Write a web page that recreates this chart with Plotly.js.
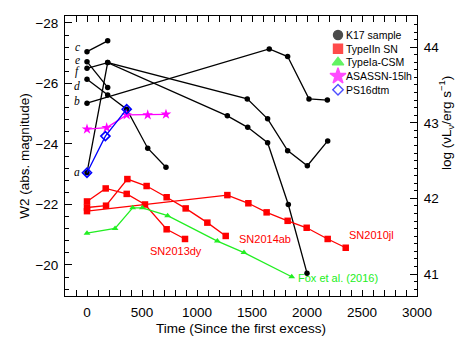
<!DOCTYPE html>
<html>
<head>
<meta charset="utf-8">
<script src="https://cdn.plot.ly/plotly-3.0.1.min.js"></script>
<style>html,body{margin:0;padding:0;background:#fff;}#chart{width:463px;height:337px;}</style>
</head>
<body>
<div id="chart"></div>
<script>
// ---- data (time since first excess [days], W2 absolute magnitude) ----
const k17_a_t = [0, 188, 1457, 1642, 1824, 2003, 2188];
const k17_a_m = [-23.05, -26.69, -25.49, -24.83, -23.78, -23.28, -24.10];
const k17_b_t = [0, 1657, 1824, 2018, 2185];
const k17_b_m = [-25.35, -27.14, -26.89, -25.49, -25.45];
const k17_c_t = [0, 188];
const k17_c_m = [-27.05, -27.41];
const k17_d_t = [0, 188, 361, 552, 718];
const k17_d_m = [-26.14, -25.62, -25.15, -23.86, -23.23];
const k17_e_t = [0, 188];
const k17_e_m = [-26.72, -25.87];
const k17_f_t = [0, 188, 1276, 1461, 1642, 1830, 2000];
const k17_f_m = [-26.50, -26.69, -24.93, -24.55, -24.04, -22.00, -19.73];

const sn2013dy_t = [0, 170, 361, 527, 724, 891];
const sn2013dy_m = [-22.10, -22.53, -22.35, -22.00, -21.18, -20.86];
const sn2014ab_t = [0, 173, 367, 542, 724, 897, 1094, 1261];
const sn2014ab_m = [-21.90, -21.96, -22.84, -22.61, -22.24, -21.87, -21.40, -20.96];
const sn2010jl_t = [0, 1276, 1467, 1633, 1824, 1997, 2188, 2352];
const sn2010jl_m = [-21.78, -22.31, -22.04, -21.74, -21.46, -21.23, -20.86, -20.57];

const iacsm_t = [0, 255, 415, 503, 733, 1185, 1427, 1861];
const iacsm_m = [-21.05, -21.21, -21.89, -21.89, -21.63, -20.79, -20.41, -19.61];

const asassn_t = [0, 179, 361, 552, 718];
const asassn_m = [-24.49, -24.54, -24.96, -24.96, -24.98];

const ps16_t = [0, 167, 361];
const ps16_m = [-23.05, -24.26, -25.15];

const k17_labels = ['a', 'b', 'c', 'd', 'e', 'f'];
const k17_label_m = [-23.06, -25.43, -27.20, -25.92, -26.76, -26.40];

const sn_labels = ['SN2013dy', 'SN2014ab', 'SN2010jl'];
const sn_label_t = [555, 1364, 2365];
const sn_label_m = [-20.47, -20.86, -20.98];
const fox_label = 'Fox et al. (2016)';
const fox_label_t = [1900];
const fox_label_m = [-19.56];

const legend_names = ['K17 sample', 'TypeIIn SN', 'TypeIa-CSM', 'ASASSN-15lh', 'PS16dtm'];

// ---- axis scales ----
const xRange = [-200, 3000];
const yRange = [-18.975, -28.23];
// log(nu L_nu) = 44 - (M + 27.2)/2.5
const toLog = m => 44 - (m + 27.2) / 2.5;
const y2Range = [toLog(yRange[0]), toLog(yRange[1])];

const W = 463, H = 337, mL = 65, mR = 46, mT = 16, mB = 41;
const pw = W - mL - mR, ph = H - mT - mB;
const px = x => (x - mL) / pw;
const py = y => 1 - (y - mT) / ph;

const GREEN = '#22ee22';
const traces = [];
const k17 = [[k17_a_t, k17_a_m], [k17_b_t, k17_b_m], [k17_c_t, k17_c_m], [k17_d_t, k17_d_m], [k17_e_t, k17_e_m], [k17_f_t, k17_f_m]];
k17.forEach(([t, m]) => traces.push({x: t, y: m, mode: 'lines+markers', showlegend: false,
  line: {color: 'black', width: 1.3}, marker: {color: 'black', size: 5.5, symbol: 'circle'}}));
[[sn2013dy_t, sn2013dy_m], [sn2014ab_t, sn2014ab_m], [sn2010jl_t, sn2010jl_m]].forEach(([t, m]) =>
  traces.push({x: t, y: m, mode: 'lines+markers', showlegend: false,
    line: {color: '#ff0000', width: 1.3}, marker: {color: '#ff0000', size: 6.5, symbol: 'square'}}));
traces.push({x: iacsm_t, y: iacsm_m, mode: 'lines+markers', showlegend: false,
  line: {color: GREEN, width: 1.3}, marker: {color: GREEN, size: 6, symbol: 'triangle-up'}});
traces.push({x: asassn_t, y: asassn_m, mode: 'lines+markers', showlegend: false,
  line: {color: '#ff00ff', width: 1.3}, marker: {color: '#ff00ff', size: 8, symbol: 'star'}});
traces.push({x: ps16_t, y: ps16_m, mode: 'lines+markers', showlegend: false,
  line: {color: '#0000ff', width: 1.3}, marker: {color: '#0000ff', size: 7, symbol: 'diamond-open', line: {color: '#0000ff', width: 1.6}}});

// invisible trace on right axis
traces.push({x: [null], y: [null], yaxis: 'y2', mode: 'markers', showlegend: false, hoverinfo: 'skip'});

// manual legend (symbols on a hidden unit axis, labels as annotations)
const legX = 338, legY0 = 35, legDY = 13.7;
const legSym = ['circle', 'square', 'triangle-up', 'star', 'diamond-open'];
const legCol = ['black', '#ff0000', GREEN, '#ff00ff', '#0000ff'];
const legSize = [9, 9, 10, 12, 8];
traces.push({x: legend_names.map(() => px(legX)), y: legend_names.map((_, i) => py(legY0 + i * legDY)),
  xaxis: 'x2', yaxis: 'y3', mode: 'markers', showlegend: false, hoverinfo: 'skip',
  marker: {symbol: legSym, color: legCol, size: legSize, line: {color: legCol, width: 1.4}}});

const annotations = [];
legend_names.forEach((n, i) => annotations.push({x: px(legX + 6), y: py(legY0 + i * legDY), xref: 'paper', yref: 'paper',
  xanchor: 'left', yanchor: 'middle', text: n, showarrow: false, font: {family: 'Liberation Sans', size: 10.5, color: 'black'}}));
k17_labels.forEach((l, i) => annotations.push({x: -45, y: k17_label_m[i], xref: 'x', yref: 'y', xanchor: 'right', yanchor: 'middle',
  text: '<i>' + l + '</i>', showarrow: false, font: {family: 'Liberation Serif', size: 11.5, color: 'black'}}));
sn_labels.forEach((l, i) => annotations.push({x: sn_label_t[i], y: sn_label_m[i], xref: 'x', yref: 'y', xanchor: 'left', yanchor: 'middle',
  text: l, showarrow: false, font: {family: 'Liberation Sans', size: 11, color: '#ff0000'}}));
annotations.push({x: fox_label_t[0], y: fox_label_m[0], xref: 'x', yref: 'y', xanchor: 'left', yanchor: 'middle',
  text: fox_label, showarrow: false, font: {family: 'Liberation Sans', size: 11, color: GREEN}});
annotations.push({x: px(446), y: py(123), xref: 'paper', yref: 'paper', xanchor: 'center', yanchor: 'middle',
  showarrow: false, textangle: -90, text: 'log (\u03BDL<sub>\u03BD</sub>/erg s<sup>\u22121</sup>)',
  font: {family: 'Liberation Sans', size: 13.5, color: 'black'}});

const tickFont = {family: 'Liberation Sans', size: 13.5, color: 'black'};
const layout = {
  width: W, height: H,
  margin: {l: mL, r: mR, t: mT, b: mB, pad: 0},
  paper_bgcolor: 'white', plot_bgcolor: 'white',
  font: {family: 'Liberation Sans', color: 'black'},
  showlegend: false,
  xaxis: {range: xRange, showgrid: false, zeroline: false, showline: true, linecolor: 'black', linewidth: 1,
    mirror: 'allticks', ticks: 'inside', ticklen: 6, tickcolor: 'black', tickwidth: 1, dtick: 500, tick0: 0,
    tickfont: tickFont, ticklabelstandoff: 4,
    minor: {dtick: 100, ticks: 'inside', ticklen: 3, tickcolor: 'black', tickwidth: 1, showgrid: false},
    title: {text: 'Time (Since the first excess)', font: {family: 'Liberation Sans', size: 13.5}, standoff: 4}},
  xaxis2: {range: [0, 1], overlaying: 'x', visible: false, fixedrange: true},
  yaxis: {range: yRange, showgrid: false, zeroline: false, showline: true, linecolor: 'black', linewidth: 1,
    ticks: 'inside', ticklen: 7, tickcolor: 'black', tickwidth: 1, dtick: 2, tick0: -28,
    tickfont: tickFont, ticklabelstandoff: 3,
    minor: {dtick: 0.4, tick0: -28, ticks: 'inside', ticklen: 3.5, tickcolor: 'black', tickwidth: 1, showgrid: false},
    title: {text: 'W2 (abs. magnitude)', font: {family: 'Liberation Sans', size: 13.5}, standoff: 2}},
  yaxis2: {range: y2Range, overlaying: 'y', side: 'right', showgrid: false, zeroline: false, showline: true,
    linecolor: 'black', linewidth: 1, ticks: 'inside', ticklen: 7, tickcolor: 'black', tickwidth: 1, dtick: 1, tick0: 41,
    tickfont: tickFont, ticklabelstandoff: 3,
    minor: {dtick: 0.1, tick0: 41, ticks: 'inside', ticklen: 3.5, tickcolor: 'black', tickwidth: 1, showgrid: false}},
  yaxis3: {range: [0, 1], overlaying: 'y', visible: false, fixedrange: true},
  annotations: annotations
};

Plotly.newPlot('chart', traces, layout, {staticPlot: true, displayModeBar: false});
</script>
</body>
</html>
